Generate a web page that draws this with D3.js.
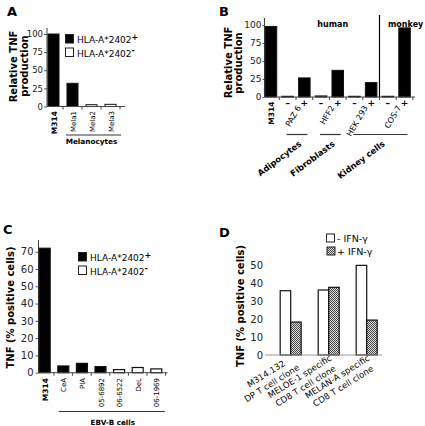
<!DOCTYPE html>
<html><head><meta charset="utf-8">
<script src="https://cdn.jsdelivr.net/npm/d3@7"></script>
<style>
body{margin:0;background:#fff}
svg{display:block;font-family:"DejaVu Sans",Verdana,sans-serif}
</style></head><body>
<svg id="c" width="425" height="426"></svg>
<script>
// ---------- Panel A data ----------
const aCats = ["M314","Mela1","Mela2","Mela3"];
const aVals = [100, 32, 2.5, 3];
const aPos  = [true, true, false, false];
const aTicks = [0,25,50,75,100];
// ---------- Panel B data ----------
const bCats = ["M314","PAZ6-","PAZ6+","HFF2-","HFF2+","HEK293-","HEK293+","COS7-","COS7+"];
const bVals = [98, 1, 26.5, 1.5, 37, 1, 20, 1, 96];
const bSigns = ["", "–", "+", "–", "+", "–", "+", "–", "+"];
const bLines = ["PAZ 6","HFF2","HEK 293","COS-7"];
const bLineAt = ["PAZ6+","HFF2+","HEK293+","COS7+"];
const bGroupNames = ["Adipocytes","Fibroblasts","Kidney cells"];
const bGroupFrom = ["PAZ6-","HFF2-","HEK293-"];
const bGroupTo = ["PAZ6+","HFF2+","COS7+"];
const bTicks = [0,25,50,75,100];
// ---------- Panel C data ----------
const cCats = ["M314","CeA","PlA","05-6892","06-6522","DeL","06-1969"];
const cVals = [72, 3.9, 5.4, 3.5, 1.8, 3.0, 2.2];
const cPos  = [true, true, true, true, false, false, false];
const cTicks = [0,10,20,30,40,50,60,70];
// ---------- Panel D data ----------
const dGroups = ["g1","g2","g3"];
const dLine1 = ["M314.132","MELOE-1 specific","MELAN-A specific"];
const dLine2 = ["DP T cell clone","CD8 T cell clone","CD8 T cell clone"];
const dSeries = ["- IFN-γ","+ IFN-γ"];
const dMinus = [35.7, 36.1, 49.8];
const dPlus  = [18.3, 37.6, 19.4];
const dTicks = [0,10,20,30,40,50];

const svg = d3.select("#c");
const defs = svg.append("defs");
const pat = defs.append("pattern").attr("id","hatch").attr("width",2).attr("height",2).attr("patternUnits","userSpaceOnUse");
pat.append("rect").attr("width",2).attr("height",2).attr("fill","#dadada");
pat.append("rect").attr("width",1).attr("height",1).attr("fill","#4a4a4a");
pat.append("rect").attr("x",1).attr("y",1).attr("width",1).attr("height",1).attr("fill","#4a4a4a");

function T(p, s, x, y, o={}) {
  return p.append("text")
    .attr("transform", `translate(${x},${y}) rotate(${o.r||0})`)
    .attr("text-anchor", o.a||"start")
    .style("font-size", (o.s||9)+"px")
    .style("font-weight", o.w||"normal")
    .attr("fill", o.f||"#000")
    .text(s);
}
function yAxis(g, y, x, ticks, o) {
  const ax = d3.axisLeft(y).tickValues(ticks).tickSize(o.size).tickSizeOuter(0).tickPadding(o.pad).tickFormat(d3.format("d"));
  const a = g.append("g").attr("transform",`translate(${x},0)`).call(ax)
    .attr("font-family","DejaVu Sans").attr("font-size", o.fs);
  a.select(".domain").remove();
  a.selectAll(".tick line").attr("stroke","#555");
  a.selectAll(".tick text").attr("fill","#222");
  if (o.top !== undefined) a.append("line").attr("y1", y.range()[0]).attr("y2", o.top).attr("stroke","#444");
  return a;
}
function xAxisLine(g, x, yPos, x0, x1, color, ticks) {
  const ax = d3.axisBottom(x).tickSize(0).tickSizeOuter(0).tickFormat("");
  const a = g.append("g").attr("transform",`translate(0,${yPos})`).call(ax);
  a.select(".domain").attr("d", `M${x0},0H${x1}`).attr("stroke", color);
  if (ticks) {
    const gap = (x.step() - x.bandwidth())/2;
    x.domain().forEach(c => {
      const bx = x(c) + x.bandwidth() + gap;
      a.append("line").attr("x1",bx).attr("x2",bx).attr("y1",0).attr("y2",3).attr("stroke",color);
    });
  }
}
function legendItem(g, x, y, fill, label, sup) {
  g.append("rect").attr("x",x).attr("y",y).attr("width",8).attr("height",8.5)
    .attr("fill",fill).attr("stroke","#222").attr("stroke-width",1);
  const t = g.append("text").attr("x",x+11.5).attr("y",y+8.5).style("font-size","9px").text(label);
  if (sup) t.append("tspan").attr("dy",-3.5).style("font-size","8px").style("font-weight","bold").text(sup);
}

// ================= Panel A =================
const gA = svg.append("g");
const xA = d3.scaleBand().domain(aCats).range([44,120]).paddingInner(0.42).paddingOuter(0.21);
const yA = d3.scaleLinear().domain([0,100]).range([106.5,34]);
T(gA, "A", 7, 15.5, {s:13, w:"bold"});
yAxis(gA, yA, 47, aTicks, {size:3, pad:1, fs:8.5, top:28});
gA.selectAll("rect.bar").data(aCats).join("rect").attr("class","bar")
  .attr("x", d => xA(d)).attr("width", xA.bandwidth())
  .attr("y", (d,i) => yA(aVals[i])).attr("height", (d,i) => yA(0)-yA(aVals[i]))
  .attr("fill", (d,i) => aPos[i] ? "#000" : "#fff").attr("stroke","#111").attr("stroke-width",1);
xAxisLine(gA, xA, yA(0), 47, 125, "#444", true);
aCats.forEach((c,i) => T(gA, c, xA(c)+xA.bandwidth()/2+3, 111, {r:-90, a:"end", s: i===0?7.5:7, w: i===0?"bold":"normal"}));
gA.append("line").attr("x1", xA("Mela1")-1).attr("x2", xA("Mela3")+xA.bandwidth()+5).attr("y1",135).attr("y2",135).attr("stroke","#333");
T(gA, "Melanocytes", (xA("Mela1")+xA("Mela3")+xA.bandwidth())/2, 144, {a:"middle", s:7.3, w:"bold"});
T(gA, "Relative TNF", 17, 66.5, {r:-90, a:"middle", s:10, w:"bold"});
T(gA, "production", 28, 66, {r:-90, a:"middle", s:10, w:"bold"});
legendItem(gA, 65.5, 34.5, "#000", "HLA-A*2402", "+");
legendItem(gA, 65.5, 48, "#fff", "HLA-A*2402", "-");

// ================= Panel B =================
const gB = svg.append("g");
const xB = d3.scaleBand().domain(bCats).range([262.6,412.9]).paddingInner(0.31).paddingOuter(0.155);
const yB = d3.scaleLinear().domain([0,100]).range([97,25]);
const cB = d => xB(d) + xB.bandwidth()/2;
T(gB, "B", 219, 15.5, {s:13, w:"bold"});
yAxis(gB, yB, 264.5, bTicks, {size:2, pad:1, fs:9, top:18});
gB.selectAll("rect.bar").data(bCats).join("rect").attr("class","bar")
  .attr("x", d => xB(d)).attr("width", xB.bandwidth())
  .attr("y", (d,i) => yB(bVals[i])).attr("height", (d,i) => yB(0)-yB(bVals[i]))
  .attr("fill", (d,i) => bSigns[i]==="–" ? "#fff" : "#000").attr("stroke","#111").attr("stroke-width",1);
xAxisLine(gB, xB, yB(0), 264.5, 415, "#444", true);
const sepX = (xB("HEK293+") + xB.bandwidth() + xB("COS7-"))/2;
gB.append("line").attr("x1",sepX).attr("x2",sepX).attr("y1",15).attr("y2",yB(0)).attr("stroke","#000").attr("stroke-width",1.2);
T(gB, "human", (xB("PAZ6-") + sepX)/2 + 2, 26.5, {a:"middle", s:8, w:"bold"});
T(gB, "monkey", sepX + 8.5, 26.5, {s:8, w:"bold"});
T(gB, "M314", cB("M314")+3, 101.5, {r:-90, a:"end", s:7.5, w:"bold"});
bCats.forEach((c,i) => { if (bSigns[i]) T(gB, bSigns[i], cB(c), 106, {a:"middle", s:9, w:"bold"}); });
bLines.forEach((s,i) => T(gB, s, cB(bLineAt[i]) - 3, 107.5, {r:-60, a:"end", s:8}));
bGroupNames.forEach((s,i) => {
  const x0 = cB(bGroupFrom[i]) - 1, x1 = cB(bGroupTo[i]) + 3;
  gB.append("line").attr("x1",x0).attr("x2",x1).attr("y1",134.5).attr("y2",134.5).attr("stroke","#333").attr("stroke-width",1.2);
  T(gB, s, (x0+x1)/2 + 5, 145, {r:-37, a:"end", s:8.4, w:"bold"});
});
T(gB, "Relative TNF", 232, 62.5, {r:-90, a:"middle", s:10, w:"bold"});
T(gB, "production", 241.5, 63, {r:-90, a:"middle", s:10, w:"bold"});

// ================= Panel C =================
const gC = svg.append("g");
const xC = d3.scaleBand().domain(cCats).range([35.4,165.6]).paddingInner(0.41).paddingOuter(0.205);
const yC = d3.scaleLinear().domain([0,70]).range([372.7,251.7]);
T(gC, "C", 3, 234, {s:13, w:"bold"});
yAxis(gC, yC, 38.5, cTicks, {size:3, pad:2, fs:10, top:240});
gC.selectAll("rect.bar").data(cCats).join("rect").attr("class","bar")
  .attr("x", d => xC(d)).attr("width", xC.bandwidth())
  .attr("y", (d,i) => yC(cVals[i])).attr("height", (d,i) => yC(0)-yC(cVals[i]))
  .attr("fill", (d,i) => cPos[i] ? "#000" : "#fff").attr("stroke","#111").attr("stroke-width",1.2);
xAxisLine(gC, xC, yC(0), 38.5, 167.5, "#444", true);
cCats.forEach((c,i) => T(gC, c, xC(c)+xC.bandwidth()/2+3, 378, {r:-90, a:"end", s: i===0?7.5:7, w: i===0?"bold":"normal"}));
gC.append("line").attr("x1", xC("CeA")+1).attr("x2", xC("06-1969")+xC.bandwidth()+3).attr("y1",411.5).attr("y2",411.5).attr("stroke","#333").attr("stroke-width",1.2);
T(gC, "EBV-B cells", (xC("CeA")+xC("06-1969")+xC.bandwidth())/2 + 3, 424.5, {a:"middle", s:7.2, w:"bold"});
T(gC, "TNF (% positive cells)", 14, 307.5, {r:-90, a:"middle", s:10, w:"bold"});
legendItem(gC, 78.5, 252.5, "#000", "HLA-A*2402", "+");
legendItem(gC, 78.5, 266, "#fff", "HLA-A*2402", "-");

// ================= Panel D =================
const gD = svg.append("g");
const xD = d3.scaleBand().domain(dGroups).range([271.7,385.7]).paddingInner(0.447).paddingOuter(0.2235);
const xDs = d3.scaleBand().domain(dSeries).range([0, xD.bandwidth()]);
const yD = d3.scaleLinear().domain([0,50]).range([355,265]);
T(gD, "D", 219, 237, {s:13, w:"bold"});
yAxis(gD, yD, 266, dTicks, {size:0, pad:3, fs:10});
dGroups.forEach((gname,i) => {
  const vals = [dMinus[i], dPlus[i]];
  dSeries.forEach((s,j) => {
    gD.append("rect").attr("x", xD(gname)+xDs(s)).attr("width", xDs.bandwidth())
      .attr("y", yD(vals[j])).attr("height", yD(0)-yD(vals[j]))
      .attr("fill", j===0 ? "#fff" : "url(#hatch)").attr("stroke","#111").attr("stroke-width",1.2);
  });
});
xAxisLine(gD, xD, yD(0), 265, 382, "#999", false);
dGroups.forEach((gname,i) => {
  const gc = xD(gname) + xD.bandwidth()/2;
  const blk = gD.append("g").attr("transform", `translate(${gc+9.5},369) rotate(-32)`);
  const t1 = blk.append("text").attr("text-anchor","middle").style("font-size","8.6px").text(dLine1[i]);
  const t2 = blk.append("text").attr("text-anchor","middle").style("font-size","8.6px").text(dLine2[i]);
  const W = Math.max(t1.node().getComputedTextLength(), t2.node().getComputedTextLength());
  t1.attr("x", -W/2).attr("y", -11);
  t2.attr("x", -W/2).attr("y", 0);
});
T(gD, "TNF (% positive cells)", 244, 306, {r:-90, a:"middle", s:10, w:"bold"});
gD.append("rect").attr("x",326.5).attr("y",234).attr("width",8).attr("height",8).attr("fill","#fff").attr("stroke","#222");
gD.append("rect").attr("x",327).attr("y",247).attr("width",8).attr("height",8).attr("fill","url(#hatch)").attr("stroke","#222");
T(gD, dSeries[0], 337, 242, {s:9.5});
T(gD, dSeries[1], 337, 255, {s:9.5});
</script>
</body></html>
